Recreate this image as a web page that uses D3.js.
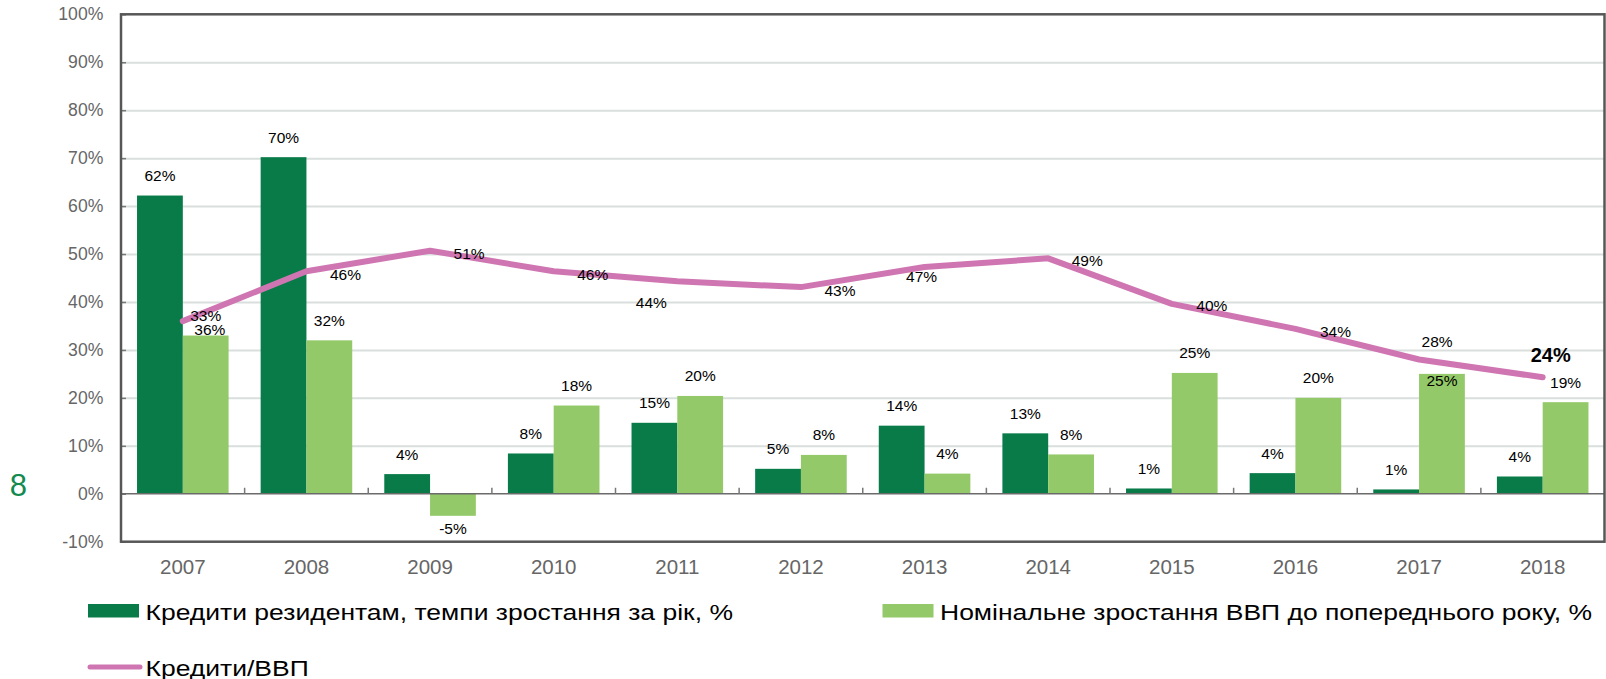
<!DOCTYPE html>
<html lang="uk">
<head>
<meta charset="UTF-8">
<title>Кредити резидентам та ВВП</title>
<script src="https://d3js.org/d3.v7.min.js"></script>
<style>
    body { margin: 0; background: #fff; }
    svg { display: block; font-family: "Liberation Sans", Arial, sans-serif; }
    .ytick text { fill: #666; font-size: 17.6px; }
    .xtick text { fill: #666; font-size: 20.5px; }
    .lbl { font-size: 15.5px; fill: #000; }
    .legend text { font-size: 22px; fill: #000; }
</style>
</head>
<body>
<svg width="1606" height="679"></svg>
<script>
    const years = ["2007", "2008", "2009", "2010", "2011", "2012", "2013", "2014", "2015", "2016", "2017", "2018"];
    // кредити резидентам, темпи зростання за рік, %
    const creditGrowth = [62.2, 70.2, 4.1, 8.4, 14.8, 5.2, 14.2, 12.6, 1.1, 4.3, 0.9, 3.6];
    // номінальне зростання ВВП до попереднього року, %
    const gdpGrowth = [33.0, 32.0, -4.6, 18.4, 20.4, 8.1, 4.2, 8.2, 25.2, 20.0, 25.0, 19.1];
    // кредити / ВВП, %
    const creditToGdp = [36.0, 46.4, 50.7, 46.4, 44.3, 43.1, 47.3, 49.1, 39.6, 34.4, 28.0, 24.3];
    const yTicks = [-10, 0, 10, 20, 30, 40, 50, 60, 70, 80, 90, 100];

    const seriesNames = ["Кредити резидентам, темпи зростання за рік, %", "Номінальне зростання ВВП до попереднього року, %", "Кредити/ВВП"];
    const colors = { credit: "#087b48", gdp: "#93c968", line: "#cf76b2" };

    // hand placed line labels in the original (offset from the point)
    const lineLabelShift = [[27, 7], [39, 2], [39, 2], [39, 2], [-26, 20], [39, 2], [-3, 9], [39, 1], [40, 1], [40, 2], [18, -19], [8, -22]];

    const plotLeft = 121, plotRight = 1604.5, plotTop = 14.3, plotBottom = 541.7;

    const svg = d3.select("svg");

    const x = d3.scaleBand().domain(years).range([plotLeft, plotRight]);
    const x1 = d3.scaleBand().domain(["credit", "gdp"]).range([0, x.bandwidth()]).paddingOuter(0.35);
    const y = d3.scaleLinear().domain([-10, 100]).range([plotBottom, plotTop]);

    const fmt = v => Math.round(v) + "%";

    // gridlines
    svg.append("g")
        .attr("transform", `translate(${plotLeft},0)`)
        .call(d3.axisLeft(y).tickValues(yTicks.filter(d => d > 0 && d < 100)).tickSize(-(plotRight - plotLeft)).tickFormat(""))
        .call(g => g.select(".domain").remove())
        .call(g => g.selectAll("line").attr("stroke", "#d9dfdd").attr("stroke-width", 2));

    // small inner ticks
    svg.append("g")
        .attr("transform", `translate(${plotLeft},0)`)
        .call(d3.axisLeft(y).tickValues(yTicks).tickSize(-5).tickFormat(""))
        .call(g => g.select(".domain").remove())
        .call(g => g.selectAll("line").attr("stroke", "#777").attr("stroke-width", 1.5));

    // y labels
    svg.append("g")
        .attr("class", "ytick")
        .attr("transform", `translate(${plotLeft},0)`)
        .call(d3.axisLeft(y).tickValues(yTicks).tickSize(0).tickPadding(17.7).tickFormat(d => d + "%"))
        .call(g => g.select(".domain").remove());

    // x labels
    svg.append("g")
        .attr("class", "xtick")
        .attr("transform", `translate(0,${plotBottom})`)
        .call(d3.axisBottom(x).tickSize(0).tickPadding(17.5))
        .call(g => g.select(".domain").remove());

    const bars = [
        { key: "credit", values: creditGrowth },
        { key: "gdp", values: gdpGrowth }
    ];

    bars.forEach(s => {
        svg.append("g").selectAll("rect")
            .data(s.values)
            .join("rect")
            .attr("x", (d, i) => x(years[i]) + x1(s.key))
            .attr("y", d => y(Math.max(0, d)))
            .attr("width", x1.bandwidth())
            .attr("height", d => Math.abs(y(d) - y(0)))
            .attr("fill", colors[s.key]);
    });

    // zero line and category ticks
    svg.append("line")
        .attr("x1", plotLeft).attr("x2", plotRight)
        .attr("y1", y(0)).attr("y2", y(0))
        .attr("stroke", "#6b6b6b").attr("stroke-width", 1.5);

    svg.append("g").selectAll("line")
        .data(years.slice(1))
        .join("line")
        .attr("x1", d => x(d)).attr("x2", d => x(d))
        .attr("y1", y(0)).attr("y2", y(0) - 6)
        .attr("stroke", "#777").attr("stroke-width", 1.5);

    // credit / gdp line
    const line = d3.line()
        .x((d, i) => x(years[i]) + x.bandwidth() / 2)
        .y(d => y(d));

    svg.append("path")
        .datum(creditToGdp)
        .attr("d", line)
        .attr("fill", "none")
        .attr("stroke", colors.line)
        .attr("stroke-width", 6)
        .attr("stroke-linejoin", "round")
        .attr("stroke-linecap", "round");

    // frame
    svg.append("rect")
        .attr("x", plotLeft).attr("y", plotTop)
        .attr("width", plotRight - plotLeft).attr("height", plotBottom - plotTop)
        .attr("fill", "none")
        .attr("stroke", "#575757")
        .attr("stroke-width", 2.5);

    // bar labels
    bars.forEach(s => {
        svg.append("g").selectAll("text")
            .data(s.values)
            .join("text")
            .attr("class", "lbl")
            .attr("text-anchor", "middle")
            .attr("x", (d, i) => x(years[i]) + x1(s.key) + x1.bandwidth() / 2)
            .attr("y", (d, i) => {
                if (d < 0) return y(d) + 18;
                if (s.key === "gdp" && years[i] === "2017") return y(d) + 12.5;
                return y(d) - 14.5;
            })
            .text(fmt);
    });

    // line labels
    svg.append("g").selectAll("text")
        .data(creditToGdp)
        .join("text")
        .attr("class", "lbl")
        .attr("text-anchor", "middle")
        .attr("x", (d, i) => x(years[i]) + x.bandwidth() / 2 + lineLabelShift[i][0])
        .attr("y", (d, i) => y(d) + lineLabelShift[i][1] + 6.5)
        .style("font-weight", (d, i) => i === years.length - 1 ? "bold" : null)
        .style("font-size", (d, i) => i === years.length - 1 ? "20px" : null)
        .text(fmt);

    // page number
    svg.append("text")
        .attr("x", 18.3).attr("y", 495.7)
        .attr("text-anchor", "middle")
        .attr("fill", "#138a4e")
        .style("font-size", "31px")
        .text("8");

    // legend (text in the original is stretched wider)
    const legend = svg.append("g").attr("class", "legend");
    const legendPos = [[88, 611], [882.5, 611], [88, 667]];

    legendPos.forEach((p, i) => {
        const g = legend.append("g").attr("transform", `translate(${p[0]},${p[1]})`);
        if (i < 2) {
            g.append("rect")
                .attr("x", 0).attr("y", -7)
                .attr("width", 51).attr("height", 13.5)
                .attr("fill", i === 0 ? colors.credit : colors.gdp);
        } else {
            g.append("line")
                .attr("x1", 2).attr("x2", 52)
                .attr("stroke", colors.line)
                .attr("stroke-width", 5)
                .attr("stroke-linecap", "round");
        }
        g.append("text")
            .attr("transform", "translate(57.5,8.5) scale(1.205,1)")
            .text(seriesNames[i]);
    });
</script>
</body>
</html>
